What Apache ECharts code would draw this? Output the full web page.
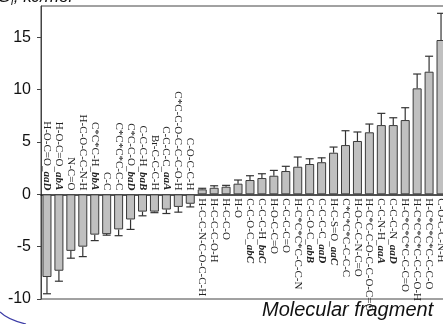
<!DOCTYPE html>
<html>
<head>
<meta charset="utf-8">
<script src="https://cdn.jsdelivr.net/npm/echarts@6/dist/echarts.min.js"></script>
<style>
html,body{margin:0;padding:0;background:#fff;}
#main{width:443px;height:324px;}
</style>
</head>
<body>
<div id="main"></div>
<script>
// fragment names, italic tag after the underscore ('' = none)
var fragments = ['H-O-C=O', 'H-O-C=O', 'N-C=O', 'H-C-O-C-C-N-H', 'C*C*C-H', 'C-C', 'C*C*C*C-C-C',
    'C*C-C-O', 'C-C-C-H', 'Br-C-C-C-H', 'C-C-C-C', 'C*C-C-O-C-C-C-O-H', 'C-O-C-C-H',
    'H-C-C-N-C-O-C-C-H', 'H-C-C-C-O-H', 'H-C-C-O', 'H-O', 'C-C-O-C', 'C-C-C-H', 'H-O-C-C=O',
    'C-C-C-C=O', 'H-C*C*C*C-C-C-N', 'C-C-O-C', 'C-C-C-C', 'H-C-S=O', 'C*C*C*C-C-C-C',
    'H-O-C-C-N-C=O', 'H-C*C-C-O-C-C-O-C=O', 'C-C-N-H', 'C-C-C-N', 'H-C*C*C*C-C-C=O',
    'H-C*C*C*C-C-C-O-H', 'H-C*C*C*C-C-C-O', 'C-O-C-C-N-H'];
var tags = ['aaD', 'abA', '', '', 'bbA', '', '', 'baD', 'baB', '', 'aaA', '', '',
    '', '', '', '', 'abC', 'baC', '', '', '', 'abB', 'aaD', 'aaC', '', '', '', 'aaA', 'aaD', '', '', '', ''];
var energy = [-7.9, -7.3, -5.4, -5.0, -3.85, -3.8, -3.35, -2.4, -1.65, -1.65, -1.45, -1.2, -0.9,
    0.48, 0.63, 0.73, 1.02, 1.37, 1.56, 1.78, 2.23, 2.64, 2.9, 3.07, 3.98, 4.71, 5.1, 5.93,
    6.62, 6.62, 7.1, 10.13, 11.72, 14.75];
var errors = [1.6, 1.0, 0.7, 0.95, 0.57, 0.1, 0.6, 0.95, 0.4, 0.1, 0.38, 0.5, 0.3,
    0.1, 0.19, 0.13, 0.35, 0.41, 0.41, 0.51, 0.45, 0.93, 0.5, 0.42, 0.54, 1.37, 0.86, 0.79,
    1.12, 0.7, 1.18, 1.37, 1.48, 2.55];
var yTicks = [-10, -5, 0, 5, 10, 15];
var yMin = -10, yMax = 18;

var myChart = echarts.init(document.getElementById('main'));

var gLeft = 41, gTop = 6, gWidth = 406, gHeight = 293;
// pixel row of the zero line, so the label strips can sit on it
var zeroY = gTop + gHeight * yMax / (yMax - yMin);

function labelText(i) {
    if (tags[i]) return fragments[i] + '_{i|' + tags[i] + '}';
    return fragments[i];
}

var errData = [];
for (var k = 0; k < energy.length; k++) {
    errData.push([k, energy[k], errors[k]]);
}

function renderError(params, api) {
    var i = api.value(0), v = api.value(1), e = api.value(2);
    var end = v < 0 ? v - e : v + e;
    var p0 = api.coord([i, v]);
    var p1 = api.coord([i, end]);
    var st = {stroke: '#333', lineWidth: 1.2};
    return {
        type: 'group',
        children: [
            {type: 'line', shape: {x1: p0[0], y1: p0[1], x2: p1[0], y2: p1[1]}, style: st},
            {type: 'line', shape: {x1: p1[0] - 4, y1: p1[1], x2: p1[0] + 4, y2: p1[1]}, style: st}
        ]
    };
}

var labelBase = {
    interval: 0,
    rotate: -90,
    margin: 4,
    fontFamily: 'Liberation Serif',
    fontSize: 11,
    color: '#222',
    rich: {
        i: {fontFamily: 'Liberation Serif', fontSize: 11, fontStyle: 'italic', fontWeight: 'bold', color: '#222'}
    }
};

function labelAxis(gridIndex, pos, showNeg) {
    return {
        type: 'category',
        gridIndex: gridIndex,
        data: fragments,
        position: pos,
        axisLine: {show: false},
        axisTick: {show: false},
        axisLabel: Object.assign({}, labelBase, {
            formatter: function (v, i) {
                return (energy[i] < 0) === showNeg ? labelText(i) : '';
            }
        })
    };
}

var hiddenY = function (gridIndex) {
    return {type: 'value', gridIndex: gridIndex, show: false, min: 0, max: 1};
};

var option = {
    animation: false,
    backgroundColor: '#fff',
    grid: [{
        left: gLeft, top: gTop, width: gWidth, height: gHeight,
        outerBoundsMode: 'none',
        show: true, borderColor: '#444', borderWidth: 1
    }, {
        left: gLeft, top: gTop, width: gWidth, height: zeroY - gTop,
        outerBoundsMode: 'none'
    }, {
        left: gLeft, top: zeroY, width: gWidth, height: gTop + gHeight - zeroY,
        outerBoundsMode: 'none'
    }],
    xAxis: [{
        type: 'category',
        data: fragments,
        axisLine: {onZero: true, lineStyle: {color: '#1a1a1a', width: 1.6}},
        axisTick: {show: false},
        axisLabel: {show: false}
    },
        labelAxis(1, 'bottom', false),
        labelAxis(2, 'top', true)
    ],
    yAxis: [{
        type: 'value',
        min: yMin,
        max: yMax,
        interval: 5,
        axisLine: {show: true, lineStyle: {color: '#444', width: 1}},
        axisTick: {show: true, length: 4, customValues: yTicks, lineStyle: {color: '#444'}},
        axisLabel: {
            customValues: yTicks,
            margin: 10,
            fontFamily: 'Liberation Sans',
            fontSize: 16,
            color: '#111'
        },
        splitLine: {show: false}
    }, hiddenY(1), hiddenY(2)],
    series: [{
        type: 'bar',
        data: energy,
        barWidth: 9,
        itemStyle: {color: '#c0c0c0', borderColor: '#3a3a3a', borderWidth: 1},
        z: 2
    }, {
        type: 'custom',
        data: errData,
        renderItem: renderError,
        encode: {x: 0, y: 1},
        z: 3
    }],
    graphic: [{
        type: 'text',
        left: -14,
        top: -11,
        style: {
            text: '{a|ΔG}{s|f}{a|, kJ/mol}',
            rich: {
                a: {fontFamily: 'Liberation Sans', fontSize: 17, fontStyle: 'italic', fill: '#111'},
                s: {fontFamily: 'Liberation Sans', fontSize: 11, fontStyle: 'italic', fill: '#111', padding: [8, 0, 0, 0]}
            }
        }
    }, {
        type: 'text',
        left: 262,
        top: 300,
        style: {
            text: 'Molecular fragment',
            fontFamily: 'Liberation Sans',
            fontSize: 20,
            fontStyle: 'italic',
            fill: '#111'
        }
    }, {
        type: 'bezierCurve',
        shape: {x1: 0, y1: 312, x2: 26, y2: 324, cpx1: 8, cpy1: 320},
        style: {stroke: '#3b3ba6', lineWidth: 1.2, fill: null}
    }]
};
myChart.setOption(option);
</script>
</body>
</html>
